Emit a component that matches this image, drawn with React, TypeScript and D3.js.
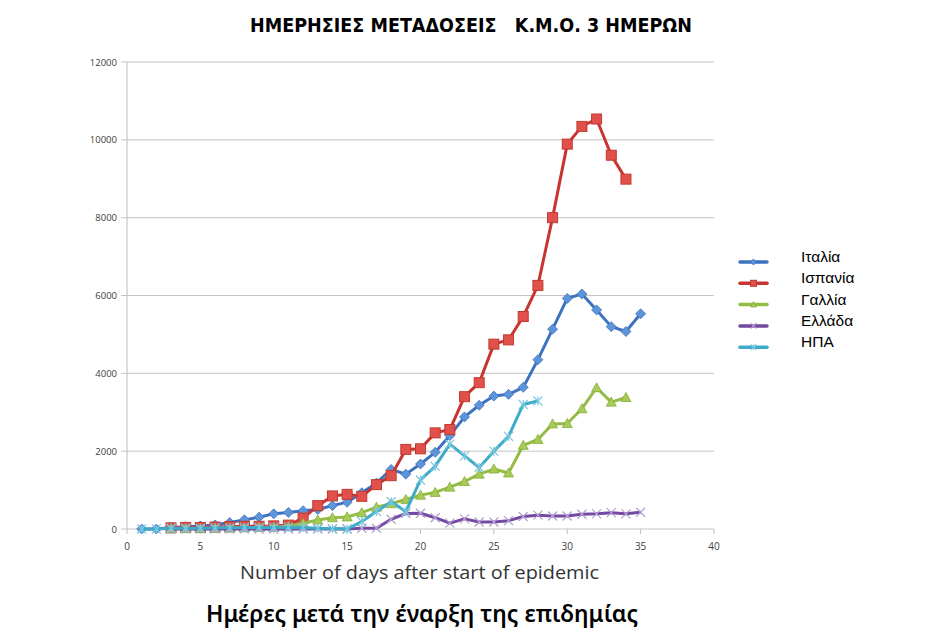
import * as d3 from "d3";

// daily new cases, 3-day moving average (index 0 = day 1)
const days = d3.range(1, 36);
const seriesNames = ["Ιταλία", "Ισπανία", "Γαλλία", "Ελλάδα", "ΗΠΑ"];

const italy = [0, 0, 40, 60, 80, 105, 165, 235, 305, 390, 425, 470, 500, 600, 690,
  930, 1180, 1530, 1410, 1670, 1970, 2400, 2880, 3180, 3415, 3460, 3640, 4350, 5135,
  5925, 6040, 5630, 5200, 5075, 5530];
const spain = [null, null, 30, 40, 40, 50, 60, 70, 70, 80, 100, 280, 600, 850, 890,
  840, 1140, 1370, 2045, 2060, 2470, 2555, 3400, 3760, 4750, 4860, 5460, 6260, 8000,
  9890, 10345, 10535, 9605, 8990];
const france = [null, null, 10, 10, 10, 20, 20, 30, 40, 50, 70, 150, 230, 290, 310,
  420, 560, 650, 760, 870, 940, 1075, 1220, 1410, 1540, 1440, 2150, 2300, 2700, 2710,
  3090, 3630, 3260, 3380];
const greece = [null, null, 0, 0, 0, 0, 0, 0, 0, 0, 0, 0, 0, 0, 0,
  20, 20, 250, 400, 405, 290, 150, 260, 180, 180, 215, 320, 355, 335, 335,
  380, 390, 420, 390, 430];
const usa = [0, 0, 20, 20, 20, 30, 30, 40, 40, 40, 40, 40, 20, 10, 0,
  190, 450, 700, 450, 1260, 1610, 2180, 1880, 1580, 2000, 2380, 3200, 3290];

const yTicks = [0, 2000, 4000, 6000, 8000, 10000, 12000];
const xTicks = [0, 5, 10, 15, 20, 25, 30, 35, 40];

const lineColors = ["#3D72C0", "#C8342F", "#94BC45", "#7548A3", "#3DAAC8"];
const markerFill = ["#5E95D8", "#E2504B", "#A6CB56", "#B7A3D6", "#8FD2E6"];
const markerStroke = ["#3D72C0", "#C0392F", "#86AC3C", "#B0A0D0", "#7AC8DE"];

const seriesData = [italy, spain, france, greece, usa];

const x = d3.scaleLinear().domain([0, 40]).range([127, 714]);
const y = d3.scaleLinear().domain([0, 12000]).range([529, 62]);

const Marker = ({ kind, cx, cy, k = 1 }: { kind: number; cx: number; cy: number; k?: number }) => {
  const f = markerFill[kind];
  const s = markerStroke[kind];
  if (kind === 0) {
    const r = 5 * k;
    return <path d={`M${cx},${cy - r}L${cx + r},${cy}L${cx},${cy + r}L${cx - r},${cy}Z`} fill={f} stroke={s} strokeWidth={0.8} />;
  }
  if (kind === 1) {
    const r = 5 * k;
    return <rect x={cx - r} y={cy - r} width={2 * r} height={2 * r} fill={f} stroke={s} strokeWidth={1} />;
  }
  if (kind === 2) {
    const r = 5 * k;
    return <path d={`M${cx},${cy - r}L${cx + r},${cy + r * 0.8}L${cx - r},${cy + r * 0.8}Z`} fill={f} stroke={s} strokeWidth={0.8} />;
  }
  const r = 4.5 * k;
  return (
    <g stroke={s} strokeWidth={1.2}>
      <line x1={cx - r} y1={cy - r} x2={cx + r} y2={cy + r} />
      <line x1={cx - r} y1={cy + r} x2={cx + r} y2={cy - r} />
      {kind === 4 && <line x1={cx} y1={cy - r} x2={cx} y2={cy + r} />}
    </g>
  );
};

export default function App() {
  const line = d3
    .line<number | null>()
    .defined((d) => d !== null)
    .x((_, j) => x(days[j]))
    .y((d) => y(d as number));

  return (
    <svg width={944} height={640} style={{ position: "absolute", left: 0, top: 0, background: "#fff" }}>
      <text x={250} y={32} xmlSpace="preserve" fontFamily="'DejaVu Sans Condensed', 'Liberation Sans Narrow', sans-serif"
        fontWeight="bold" fontSize={19} fill="#000" textLength={442} lengthAdjust="spacingAndGlyphs">
        {"ΗΜΕΡΗΣΙΕΣ ΜΕΤΑΔΟΣΕΙΣ   Κ.Μ.Ο. 3 ΗΜΕΡΩΝ"}
      </text>

      {/* gridlines and y axis */}
      {yTicks.map((t) => (
        <g key={t}>
          <line x1={121} x2={714} y1={y(t)} y2={y(t)} stroke="#C4C4C4" strokeWidth={1} />
          <text x={117} y={y(t) + 3.5} textAnchor="end" fontFamily="'Open Sans', sans-serif" fontSize={9.5} fill="#404040">
            {t}
          </text>
        </g>
      ))}
      <line x1={127} x2={127} y1={62} y2={529} stroke="#BDBDBD" />
      {xTicks.map((t) => (
        <g key={t}>
          <line x1={x(t)} x2={x(t)} y1={529} y2={534} stroke="#BDBDBD" />
          <text x={x(t)} y={550} textAnchor="middle" fontFamily="'Open Sans', sans-serif" fontSize={10} fill="#404040">
            {t}
          </text>
        </g>
      ))}

      {seriesData.map((s, i) => (
        <g key={i}>
          <path d={line(s) ?? ""} fill="none" stroke={lineColors[i]} strokeWidth={3} strokeLinejoin="round" />
          {s.map((v, j) =>
            v === null ? null : <Marker key={j} kind={i} cx={x(days[j])} cy={y(v)} />
          )}
        </g>
      ))}

      <text x={240} y={579} fontFamily="'Open Sans', sans-serif" fontSize={18} fill="#333"
        textLength={359} lengthAdjust="spacingAndGlyphs">
        Number of days after start of epidemic
      </text>
      <text x={206} y={622} fontFamily="'Noto Sans', sans-serif" fontWeight={600} fontSize={23} fill="#000"
        textLength={432} lengthAdjust="spacingAndGlyphs">
        Ημέρες μετά την έναρξη της επιδημίας
      </text>

      {/* legend */}
      {seriesNames.map((n, i) => {
        const ly = 262 + i * 21.3;
        return (
          <g key={n}>
            <line x1={740} x2={767} y1={ly} y2={ly} stroke={lineColors[i]} strokeWidth={3.5} strokeLinecap="round" />
            <Marker kind={i} cx={753.5} cy={ly} k={0.6} />
            <text x={801} y={ly + 0} fontFamily="'Liberation Sans', Arial, sans-serif" fontSize={15.5} fill="#000">
              {n}
            </text>
          </g>
        );
      })}
    </svg>
  );
}
